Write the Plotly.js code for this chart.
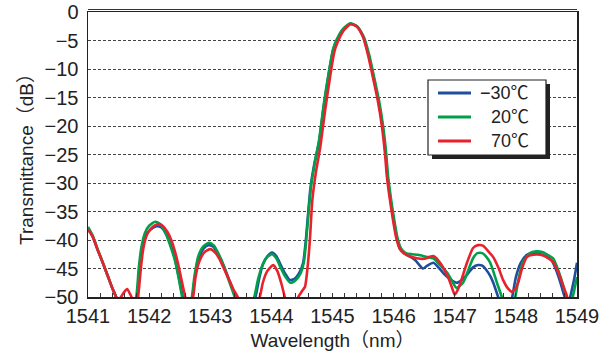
<!DOCTYPE html>
<html>
<head>
<meta charset="utf-8">
<script src="https://cdn.plot.ly/plotly-3.0.1.min.js"></script>
<style>html,body{margin:0;padding:0;background:#fff;}#chart{width:614px;height:356px;}</style>
</head>
<body>
<div id="chart"></div>
<script>
// Series names
const seriesNames = ["\u221230\u2103", "20\u2103", "70\u2103"];

// -30 C (blue)
const blueX = [1541.00,1541.08,1541.16,1541.25,1541.33,1541.40,1541.46,1541.58,1541.80,1541.84,1541.88,1541.94,1542.02,1542.12,1542.20,1542.28,1542.35,1542.42,1542.48,1542.55,1542.63,1542.71,1542.75,1542.81,1542.89,1542.97,1543.05,1543.13,1543.22,1543.31,1543.42,1543.58,1543.74,1543.80,1543.86,1543.94,1544.01,1544.08,1544.15,1544.22,1544.30,1544.38,1544.46,1544.52,1544.56,1544.60,1544.64,1544.70,1544.78,1544.86,1544.94,1545.01,1545.07,1545.17,1545.29,1545.40,1545.50,1545.59,1545.67,1545.75,1545.82,1545.87,1545.90,1545.95,1546.00,1546.05,1546.10,1546.20,1546.35,1546.48,1546.55,1546.65,1546.75,1546.84,1546.94,1547.03,1547.12,1547.20,1547.30,1547.38,1547.45,1547.52,1547.58,1547.63,1547.71,1547.83,1547.94,1548.00,1548.08,1548.18,1548.27,1548.38,1548.48,1548.58,1548.66,1548.73,1548.80,1548.86,1548.91,1548.96,1549.00];
const blueY = [-38.1,-39.5,-41.8,-44.2,-46.5,-48.5,-50.0,-55.0,-50.0,-45.5,-42.0,-39.3,-38.2,-37.6,-37.8,-39.0,-40.8,-43.2,-46.2,-50.0,-54.0,-50.0,-46.5,-43.3,-41.5,-40.9,-41.2,-42.5,-44.5,-47.0,-50.0,-55.0,-50.0,-46.8,-44.3,-42.8,-42.2,-42.8,-44.3,-45.8,-47.0,-46.8,-45.7,-44.0,-40.5,-35.5,-30.8,-26.8,-22.8,-16.3,-10.8,-6.7,-5.0,-3.1,-2.1,-2.5,-4.3,-7.5,-11.4,-15.5,-20.2,-25.0,-28.9,-33.0,-36.5,-39.5,-41.5,-42.5,-43.5,-45.0,-44.5,-44.0,-45.0,-46.1,-47.0,-47.5,-47.0,-46.1,-44.8,-44.4,-44.5,-45.3,-46.3,-47.5,-50.0,-54.0,-50.0,-46.5,-44.0,-42.6,-42.3,-42.4,-42.8,-43.5,-45.3,-47.5,-50.0,-51.0,-49.0,-46.5,-44.0];

// 20 C (green)
const greenX = [1541.00,1541.08,1541.16,1541.25,1541.33,1541.40,1541.46,1541.55,1541.66,1541.79,1541.83,1541.87,1541.93,1542.00,1542.10,1542.18,1542.27,1542.34,1542.42,1542.48,1542.54,1542.62,1542.70,1542.74,1542.80,1542.88,1542.98,1543.06,1543.14,1543.22,1543.30,1543.40,1543.55,1543.72,1543.78,1543.85,1543.93,1544.01,1544.08,1544.15,1544.22,1544.31,1544.40,1544.48,1544.53,1544.57,1544.61,1544.65,1544.71,1544.78,1544.86,1544.94,1545.01,1545.07,1545.17,1545.29,1545.40,1545.51,1545.60,1545.68,1545.76,1545.83,1545.88,1545.91,1545.96,1546.01,1546.06,1546.12,1546.20,1546.30,1546.40,1546.55,1546.65,1546.75,1546.88,1546.96,1547.03,1547.14,1547.22,1547.30,1547.37,1547.45,1547.52,1547.58,1547.64,1547.69,1547.77,1547.88,1547.99,1548.05,1548.12,1548.23,1548.33,1548.43,1548.52,1548.61,1548.70,1548.78,1548.82,1548.88,1548.93,1549.00];
const greenY = [-37.7,-39.3,-41.7,-44.2,-46.5,-48.5,-50.0,-54.0,-56.0,-50.0,-45.0,-41.5,-38.8,-37.5,-36.8,-37.2,-38.8,-40.8,-43.5,-46.5,-50.0,-54.0,-50.0,-46.5,-43.0,-41.2,-40.5,-41.0,-42.5,-44.5,-47.0,-50.0,-55.0,-50.0,-47.0,-44.5,-43.0,-42.5,-43.2,-44.8,-46.3,-47.5,-47.0,-45.8,-44.0,-40.0,-35.0,-30.5,-26.5,-22.5,-16.0,-10.5,-6.5,-4.8,-3.0,-2.0,-2.5,-4.3,-7.5,-11.4,-15.5,-20.2,-25.0,-28.9,-33.0,-36.5,-39.5,-41.5,-42.3,-42.5,-42.6,-43.0,-43.2,-44.3,-45.8,-47.3,-48.4,-47.4,-45.3,-43.2,-42.3,-42.3,-43.0,-44.0,-45.8,-47.5,-50.0,-54.0,-50.0,-46.5,-43.8,-42.3,-42.0,-42.1,-42.6,-43.2,-45.5,-48.2,-50.0,-52.0,-50.0,-46.5];

// 70 C (red)
const redX = [1541.00,1541.08,1541.16,1541.25,1541.33,1541.40,1541.46,1541.50,1541.58,1541.64,1541.68,1541.72,1541.77,1541.82,1541.86,1541.90,1541.95,1542.00,1542.08,1542.16,1542.22,1542.30,1542.37,1542.43,1542.47,1542.53,1542.59,1542.65,1542.72,1542.76,1542.82,1542.90,1543.00,1543.08,1543.15,1543.21,1543.30,1543.38,1543.45,1543.60,1543.81,1543.86,1543.93,1544.03,1544.10,1544.16,1544.22,1544.33,1544.44,1544.50,1544.55,1544.59,1544.63,1544.67,1544.73,1544.80,1544.88,1544.96,1545.03,1545.08,1545.18,1545.30,1545.40,1545.50,1545.58,1545.66,1545.74,1545.81,1545.86,1545.89,1545.94,1545.99,1546.04,1546.10,1546.16,1546.25,1546.38,1546.50,1546.58,1546.65,1546.70,1546.76,1546.83,1546.89,1546.95,1547.00,1547.06,1547.13,1547.20,1547.30,1547.38,1547.46,1547.55,1547.63,1547.72,1547.79,1547.87,1547.94,1548.00,1548.04,1548.10,1548.18,1548.28,1548.40,1548.50,1548.61,1548.68,1548.73,1548.79,1548.84,1548.92,1549.00];
const redY = [-38.1,-39.5,-41.8,-44.2,-46.5,-48.5,-50.0,-50.6,-49.3,-48.6,-49.3,-50.2,-53.0,-50.0,-45.5,-41.8,-39.5,-38.4,-37.5,-37.2,-37.5,-38.6,-40.2,-42.3,-44.0,-47.0,-50.0,-53.0,-50.0,-46.5,-43.8,-42.2,-41.6,-42.2,-43.3,-44.7,-46.8,-48.7,-50.0,-55.0,-50.0,-47.5,-45.5,-44.4,-45.5,-47.5,-50.0,-54.0,-50.0,-49.0,-48.2,-45.0,-40.0,-33.0,-28.0,-23.7,-17.2,-11.4,-7.0,-5.4,-3.3,-2.1,-2.6,-4.4,-7.5,-11.4,-15.5,-20.2,-25.0,-28.9,-33.0,-36.5,-39.5,-41.5,-42.3,-42.8,-43.2,-43.3,-43.0,-42.8,-43.2,-44.0,-45.2,-46.5,-48.2,-49.6,-48.5,-46.3,-44.0,-41.4,-40.9,-41.0,-42.0,-43.0,-45.0,-47.0,-48.5,-49.1,-48.4,-47.4,-45.0,-43.0,-42.6,-42.6,-43.0,-43.9,-45.3,-46.7,-48.5,-50.0,-54.0,-56.0];

const yTickVals = [0,-5,-10,-15,-20,-25,-30,-35,-40,-45,-50];
const xTickVals = [1541,1542,1543,1544,1545,1546,1547,1548,1549];

const colors = ["#1f4e9e", "#00a04a", "#e8222c"];
const xs = [blueX, greenX, redX];
const ys = [blueY, greenY, redY];

const traces = xs.map((x, i) => ({
  x: x, y: ys[i], name: seriesNames[i], type: "scatter", mode: "lines",
  line: {color: colors[i], width: 2.6, shape: "spline", smoothing: 0.6}
}));

const W = 614, H = 356, L = 88, R = 37, T = 12, B = 59;
const pw = W - L - R, ph = H - T - B;
function px(xp){ return (xp - L) / pw; }
function py(yp){ return (H - B - yp) / ph; }

const font = "Liberation Sans, Arial, Noto Sans CJK JP, sans-serif";

// Legend box (drawn with shapes + annotations)
const legBox = {x0: 428, x1: 546, y0: 80, y1: 155};
const legRows = [93, 117, 141];
const shapes = [
  {type: "line", xref: "paper", yref: "paper", layer: "above",
   x0: 0, x1: 1, y0: 1 + 2.5/ph, y1: 1 + 2.5/ph, line: {color: "#333", width: 1}},
  {type: "rect", xref: "paper", yref: "paper", layer: "above",
   x0: px(legBox.x0 + 4), x1: px(legBox.x1 + 4), y0: py(legBox.y1 + 4), y1: py(legBox.y0 + 4),
   fillcolor: "#222", line: {width: 0}},
  {type: "rect", xref: "paper", yref: "paper", layer: "above",
   x0: px(legBox.x0), x1: px(legBox.x1), y0: py(legBox.y1), y1: py(legBox.y0),
   fillcolor: "#fff", line: {color: "#222", width: 1.2}}
];
const annotations = [];
seriesNames.forEach((n, i) => {
  shapes.push({type: "line", xref: "paper", yref: "paper", layer: "above",
    x0: px(438), x1: px(471), y0: py(legRows[i]), y1: py(legRows[i]),
    line: {color: colors[i], width: 3}});
  annotations.push({xref: "paper", yref: "paper", x: px(531), y: py(legRows[i]),
    xanchor: "right", yanchor: "middle", showarrow: false, text: n,
    font: {size: 18, color: "#222", family: font}});
});

const layout = {
  width: W, height: H,
  margin: {l: L, r: R, t: T, b: B, pad: 0},
  paper_bgcolor: "#fff", plot_bgcolor: "#fff",
  showlegend: false,
  font: {family: font, color: "#222"},
  xaxis: {
    range: [1541, 1549], tickvals: xTickVals, ticks: "inside", ticklen: 4, tickcolor: "#333",
    tickfont: {size: 20, color: "#222"}, showgrid: false, zeroline: false,
    showline: true, linecolor: "#222", linewidth: 1.5, mirror: true,
    minor: {dtick: 0.2, ticks: "inside", ticklen: 4, tickcolor: "#333", showgrid: false},
    title: {text: "Wavelength（nm）", font: {size: 19, color: "#222"}, standoff: 8}
  },
  yaxis: {
    range: [-50, 0], tickvals: yTickVals, ticks: "", tickfont: {size: 20, color: "#222"},
    showgrid: true, gridcolor: "#444", gridwidth: 1, griddash: "3px,2px",
    zeroline: false, showline: true, linecolor: "#222", linewidth: 1.5, mirror: true,
    ticklabelstandoff: 4,
    title: {text: "Transmittance（dB）", font: {size: 19, color: "#222"}, standoff: 6}
  },
  shapes: shapes,
  annotations: annotations
};

Plotly.newPlot("chart", traces, layout, {displayModeBar: false, staticPlot: true});
</script>
</body>
</html>
